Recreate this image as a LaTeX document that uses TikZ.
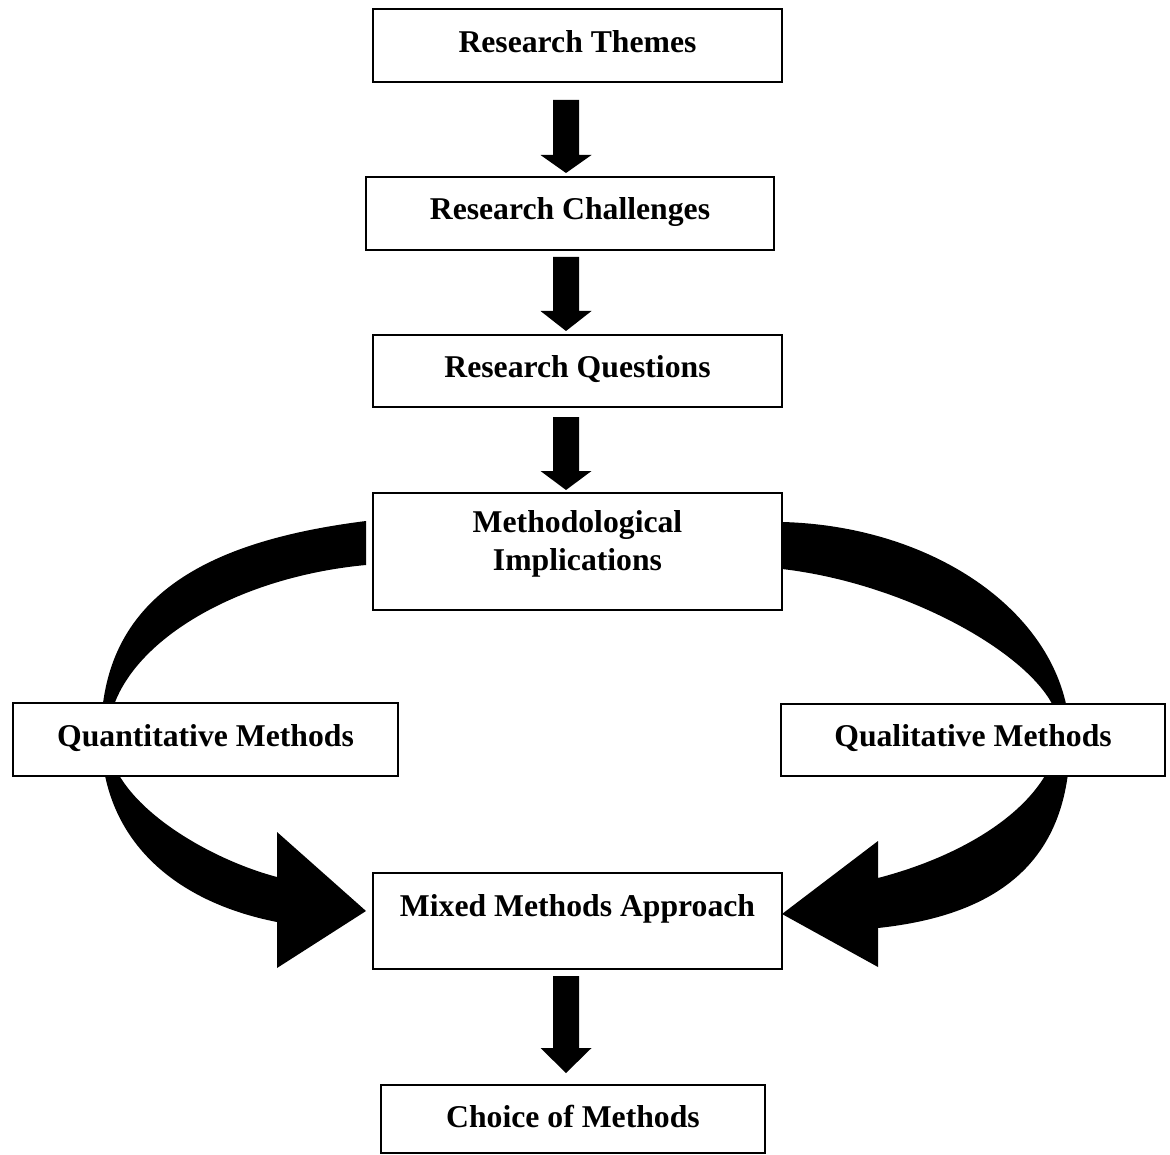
\documentclass[tikz,border=0pt]{standalone}
\usepackage{fontspec}
\setmainfont{Liberation Serif}
\usetikzlibrary{calc}

% straight block arrow: from node, to node, top gap, bottom gap, head length
\newcommand{\stemarrow}[5]{%
  \path ($(#1.south -| axis)+(0,#3)$) coordinate (st)
        ($(#2.north -| axis)+(0,-#4)$) coordinate (tp);
  \fill[black] ($(st)+(-13,0)$) -- ($(st)+(13,0)$) -- ($(tp)+(13,-#5)$)
    -- ($(tp)+(25.5,-#5)$) -- (tp) -- ($(tp)+(-25.5,-#5)$)
    -- ($(tp)+(-13,-#5)$) -- cycle;}

\begin{document}
\begin{tikzpicture}[x=0.5pt,y=-0.5pt,
  box/.style={draw=black, line width=1pt, fill=white, inner xsep=0pt,
    inner ysep=0pt, outer sep=0pt, align=center,
    font=\fontsize{15.85pt}{19pt}\selectfont\bfseries}]
\useasboundingbox (0,0) rectangle (1170,1154);
\coordinate (axis) at (566,0);

% curved block arrows (drawn first so the boxes cover them)
\fill[black] (366,521) .. controls (207,541) and (101,596) .. (101,735)
  .. controls (101,840) and (175,902) .. (277,922) -- (277,968) -- (366,911)
  -- (277,832) -- (277,877) .. controls (205,858) and (108,800) .. (108,738)
  .. controls (108,653) and (226,578) .. (366,565) -- cycle;
\fill[black] (782,522) .. controls (940,526) and (1070,620) .. (1070,740)
  .. controls (1070,860) and (1000,915) .. (878,928) -- (878,967) -- (782,914)
  -- (878,841) -- (878,878) .. controls (978,852) and (1059,795) .. (1059,728)
  .. controls (1059,670) and (920,585) .. (782,569) -- cycle;

% boxes
\node[box, minimum width=204.5pt, minimum height=36.5pt, text height=22pt, text depth=14.5pt]
  (themes) at (577.5,45.5) {Research Themes};
\node[box, minimum width=204pt, minimum height=36.5pt, text height=21.5pt, text depth=15pt]
  (challenges) at (570,213.5) {Research Challenges};
\node[box, minimum width=204.5pt, minimum height=36pt, text height=21.5pt, text depth=14.5pt]
  (questions) at (577.5,371) {Research Questions};
\node[box, minimum width=204.5pt, minimum height=58.5pt, text height=38.5pt, text depth=20pt]
  (method) at (577.5,551.5) {Methodological\\Implications};
\node[box, minimum width=192.5pt, minimum height=36.5pt, text height=21.5pt, text depth=15pt]
  (quant) at (205.5,739.5) {Quantitative Methods};
\node[box, minimum width=192pt, minimum height=36pt, text height=21pt, text depth=15pt]
  (qual) at (973,740) {Qualitative Methods};
\node[box, minimum width=204.5pt, minimum height=48pt, text height=21.5pt, text depth=26.5pt]
  (mixed) at (577.5,921) {Mixed Methods Approach};
\node[box, minimum width=192pt, minimum height=34pt, text height=21pt, text depth=13pt]
  (choice) at (573,1119) {Choice of Methods};

% straight block arrows
\stemarrow{themes}{challenges}{18}{4}{18}
\stemarrow{challenges}{questions}{7}{4}{20}
\stemarrow{questions}{method}{10}{3}{19}
\stemarrow{mixed}{choice}{7}{12}{25}
\end{tikzpicture}
\end{document}
